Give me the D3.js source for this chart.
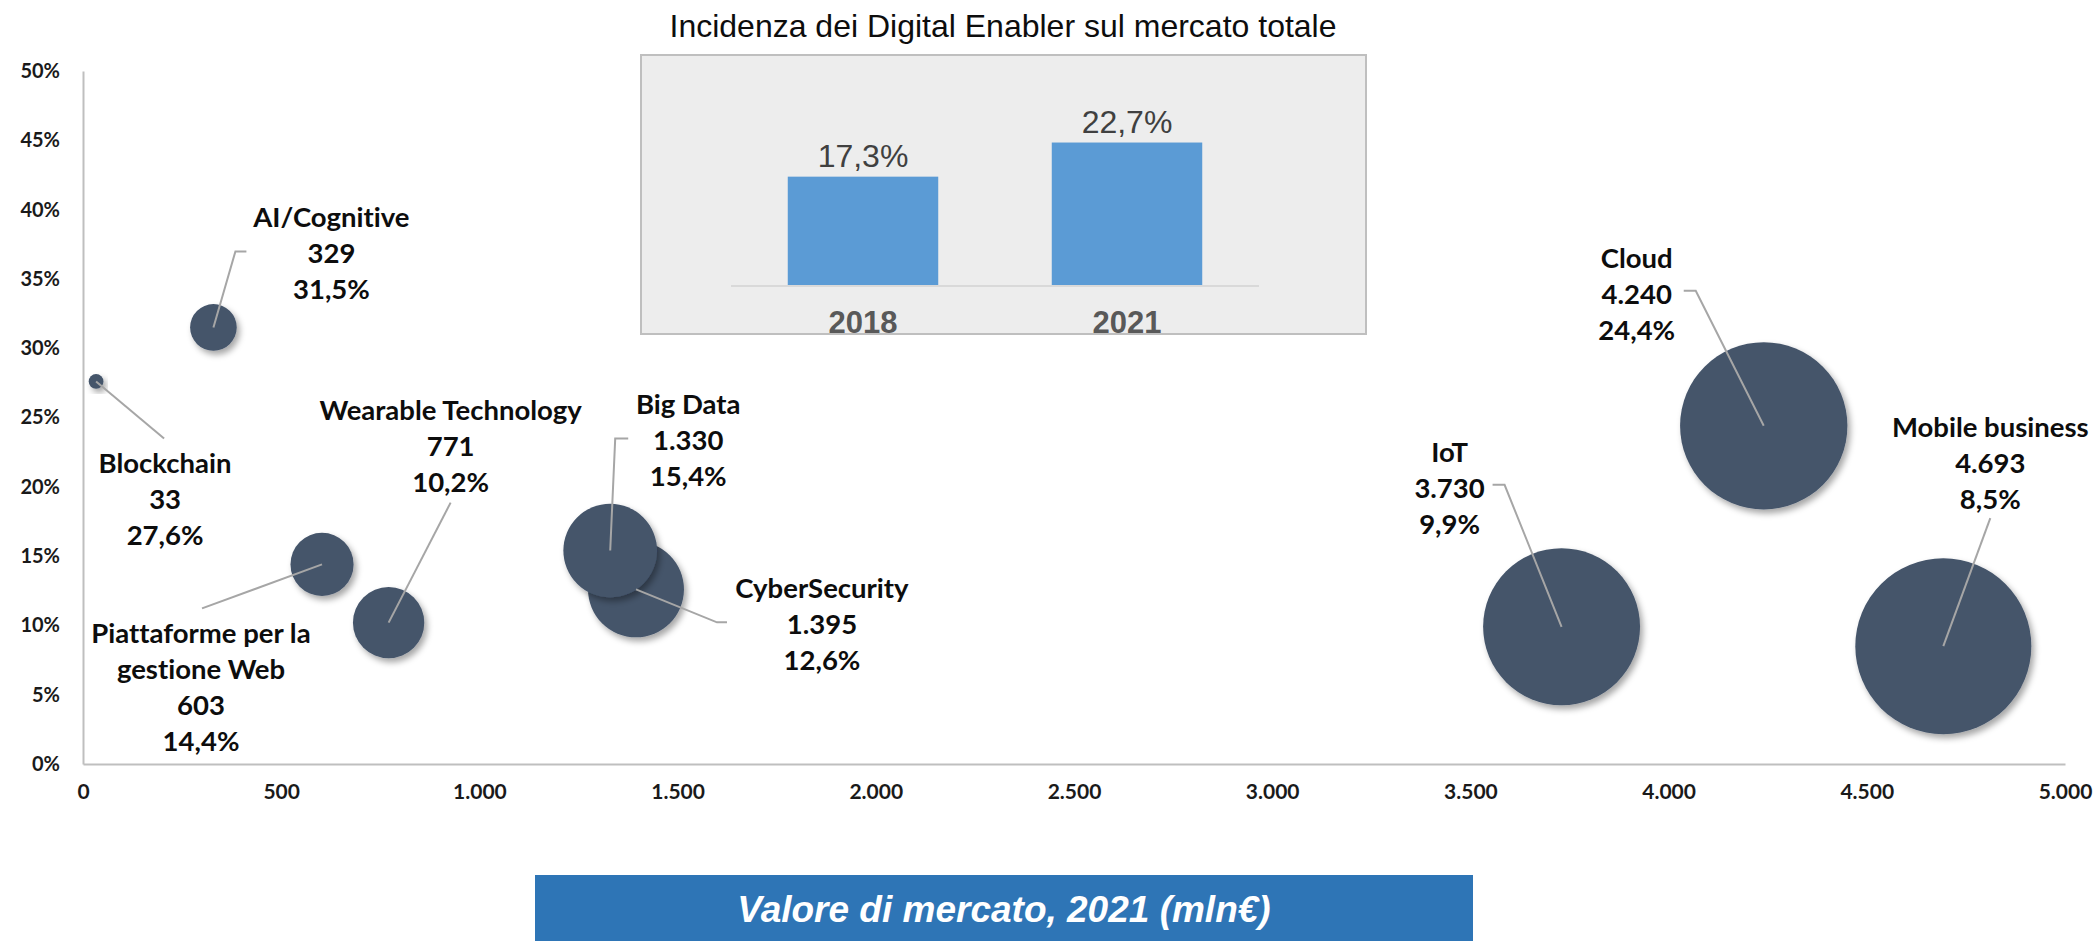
<!DOCTYPE html>
<html>
<head>
<meta charset="utf-8">
<script src="https://cdn.jsdelivr.net/npm/d3@7"></script>
<style>
  body { margin: 0; background: #fff; }
  svg { display: block; }
  text { font-variant-ligatures: none; }
</style>
</head>
<body>
<div id="chart"></div>
<script>

// bubble chart data
var enablers = ["Blockchain", "AI/Cognitive", "Piattaforme per la gestione Web", "Wearable Technology",
  "Big Data", "CyberSecurity", "IoT", "Cloud", "Mobile business"];
var marketValue = [33, 329, 603, 771, 1330, 1395, 3730, 4240, 4693];   // mln€ 2021
var growthRate = [27.6, 31.5, 14.4, 10.2, 15.4, 12.6, 9.9, 24.4, 8.5];   // %

// inset bars
var insetYears = ["2018", "2021"];
var insetShare = [17.3, 22.7];

var xTicks = [0, 500, 1000, 1500, 2000, 2500, 3000, 3500, 4000, 4500, 5000];
var yTicks = [0, 5, 10, 15, 20, 25, 30, 35, 40, 45, 50];

// label placement, offsets from bubble centre (px)
var labelLayout = {
  "Blockchain":   {lines: ["Blockchain"], dx: 69, dy: 82, ex: 68, ey: 57, hook: 0},
  "AI/Cognitive": {lines: ["AI/Cognitive"], dx: 118, dy: -110, ex: 22, ey: -76, hook: 11},
  "Piattaforme per la gestione Web": {lines: ["Piattaforme per la", "gestione Web"], dx: -121, dy: 69, ex: -120, ey: 44, hook: 0},
  "Wearable Technology": {lines: ["Wearable Technology"], dx: 62, dy: -213, ex: 62, ey: -120, hook: 0},
  "Big Data":     {lines: ["Big Data"], dx: 78, dy: -146, ex: 5, ey: -112, hook: 13},
  "CyberSecurity": {lines: ["CyberSecurity"], dx: 186, dy: -1, ex: 81, ey: 33, hook: 10},
  "IoT":          {lines: ["IoT"], dx: -112, dy: -175, ex: -57, ey: -142, hook: -12},
  "Cloud":        {lines: ["Cloud"], dx: -127, dy: -168, ex: -68, ey: -135, hook: -12},
  "Mobile business": {lines: ["Mobile business"], dx: 47, dy: -219, ex: 47, ey: -128, hook: 0}
};

var width = 2098, height = 941;
var bubbleColor = "#44546A";
var lineGray = "#A6A6A6";
var labelFont = "Lato, 'Open Sans', sans-serif";
var narrowFont = "'Liberation Sans Narrow', 'Arial Narrow', 'Liberation Sans', sans-serif";

var it = d3.formatLocale({decimal: ",", thousands: ".", grouping: [3], currency: ["", "€"]});
var fmtThousands = it.format(",");
var fmtPct = it.format(".1f");

var svg = d3.select("#chart").append("svg")
  .attr("width", width)
  .attr("height", height);

var defs = svg.append("defs");
var shadow = defs.append("filter")
  .attr("id", "shadow")
  .attr("x", "-30%").attr("y", "-30%")
  .attr("width", "160%").attr("height", "160%");
shadow.append("feDropShadow")
  .attr("dx", 3).attr("dy", 4)
  .attr("stdDeviation", 3)
  .attr("flood-color", "#000")
  .attr("flood-opacity", 0.35);

var x = d3.scaleLinear().domain([0, 5000]).range([83, 2065]);
var y = d3.scaleLinear().domain([0, 50]).range([764, 71]);
var r = d3.scaleSqrt().domain([0, 4693]).range([0, 88]);

// axes
var xAxis = svg.append("g")
  .attr("transform", "translate(0," + y(0) + ")")
  .call(d3.axisBottom(x).tickValues(xTicks).tickSize(0).tickPadding(20)
    .tickFormat(function(d) { return fmtThousands(d); }));

var yAxis = svg.append("g")
  .attr("transform", "translate(" + x(0) + ",0)")
  .call(d3.axisLeft(y).tickValues(yTicks).tickSize(0).tickPadding(23)
    .tickFormat(function(d) { return d + "%"; }));

[xAxis, yAxis].forEach(function(g) {
  g.select(".domain").attr("stroke", "#BFBFBF").attr("stroke-width", 2);
  g.selectAll("text")
    .style("font-family", labelFont)
    .style("font-weight", "bold")
    .attr("fill", "#1a1a1a");
});
xAxis.selectAll("text").style("font-size", "21px");
yAxis.selectAll("text").style("font-size", "20px");

// bubbles
var data = enablers.map(function(name, i) {
  return {name: name, value: marketValue[i], rate: growthRate[i]};
});

var sorted = data.slice().sort(function(a, b) { return b.value - a.value; });

svg.append("g").selectAll("circle")
  .data(sorted)
  .enter().append("circle")
  .attr("cx", function(d) { return x(d.value); })
  .attr("cy", function(d) { return y(d.rate); })
  .attr("r", function(d) { return r(d.value); })
  .attr("fill", bubbleColor)
  .attr("filter", "url(#shadow)");

// leader lines
svg.append("g").selectAll("path")
  .data(data)
  .enter().append("path")
  .attr("fill", "none")
  .attr("stroke", lineGray)
  .attr("stroke-width", 2)
  .attr("d", function(d) {
    var L = labelLayout[d.name];
    var cx = x(d.value), cy = y(d.rate);
    var p = d3.path();
    p.moveTo(cx, cy);
    p.lineTo(cx + L.ex, cy + L.ey);
    if (L.hook) p.lineTo(cx + L.ex + L.hook, cy + L.ey);
    return p.toString();
  });

// data labels
var lineGap = 36;
var labels = svg.append("g").selectAll("text")
  .data(data)
  .enter().append("text")
  .attr("text-anchor", "middle")
  .style("font-family", labelFont)
  .style("font-weight", "bold")
  .style("font-size", "27.5px")
  .attr("fill", "#0d0d0d");

labels.each(function(d) {
  var L = labelLayout[d.name];
  var cx = x(d.value) + L.dx, cy = y(d.rate) + L.dy;
  var rows = L.lines.concat([fmtThousands(d.value), fmtPct(d.rate) + "%"]);
  var t = d3.select(this);
  rows.forEach(function(row, i) {
    t.append("tspan")
      .attr("x", cx)
      .attr("y", cy + i * lineGap)
      .attr("dy", "0.36em")
      .text(row);
  });
});

// inset panel
var inset = svg.append("g");

inset.append("text")
  .attr("x", 1003)
  .attr("y", 25)
  .attr("dy", "0.36em")
  .attr("text-anchor", "middle")
  .style("font-family", narrowFont)
  .style("font-size", "32px")
  .attr("fill", "#0d0d0d")
  .text("Incidenza dei Digital Enabler sul mercato totale");

inset.append("rect")
  .attr("x", 641).attr("y", 55)
  .attr("width", 725).attr("height", 279)
  .attr("fill", "#EDEDED")
  .attr("stroke", "#BFBFBF")
  .attr("stroke-width", 2);

var bx = d3.scaleBand().domain(insetYears).range([731, 1259])
  .paddingInner(0.43).paddingOuter(0.215);
var by = d3.scaleLinear().domain([0, 25]).range([286, 128]);

inset.selectAll(".bar")
  .data(insetYears)
  .enter().append("rect")
  .attr("class", "bar")
  .attr("x", function(d) { return bx(d); })
  .attr("width", bx.bandwidth())
  .attr("y", function(d, i) { return by(insetShare[i]); })
  .attr("height", function(d, i) { return by(0) - by(insetShare[i]); })
  .attr("fill", "#5B9BD5");

inset.append("line")
  .attr("x1", 731).attr("x2", 1259)
  .attr("y1", by(0)).attr("y2", by(0))
  .attr("stroke", "#D9D9D9")
  .attr("stroke-width", 2);

inset.selectAll(".val")
  .data(insetYears)
  .enter().append("text")
  .attr("class", "val")
  .attr("x", function(d) { return bx(d) + bx.bandwidth() / 2; })
  .attr("y", function(d, i) { return by(insetShare[i]) - 10; })
  .attr("text-anchor", "middle")
  .style("font-family", narrowFont)
  .style("font-size", "32px")
  .attr("fill", "#404040")
  .text(function(d, i) { return fmtPct(insetShare[i]) + "%"; });

inset.selectAll(".year")
  .data(insetYears)
  .enter().append("text")
  .attr("class", "year")
  .attr("x", function(d) { return bx(d) + bx.bandwidth() / 2; })
  .attr("y", 333)
  .attr("text-anchor", "middle")
  .style("font-family", narrowFont)
  .style("font-weight", "bold")
  .style("font-size", "31px")
  .attr("fill", "#595959")
  .text(function(d) { return d; });

// x axis title banner
svg.append("rect")
  .attr("x", 535).attr("y", 875)
  .attr("width", 938).attr("height", 66)
  .attr("fill", "#2E75B6");

svg.append("text")
  .attr("x", 1004)
  .attr("y", 909)
  .attr("dy", "0.36em")
  .attr("text-anchor", "middle")
  .style("font-family", narrowFont)
  .style("font-weight", "bold")
  .style("font-style", "italic")
  .style("font-size", "37px")
  .attr("fill", "#fff")
  .text("Valore di mercato, 2021 (mln€)");

</script>
</body>
</html>
